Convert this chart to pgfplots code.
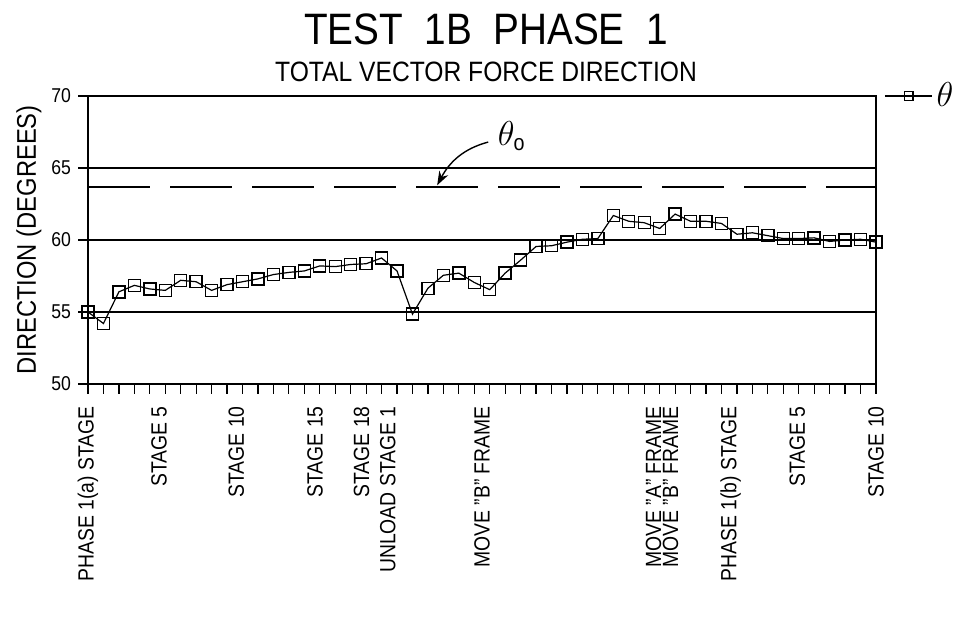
\documentclass[border=0pt]{standalone}
\usepackage{pgfplots}
\pgfplotsset{compat=1.18}
\usepackage{pgfplotstable}
\usepackage{fontspec}
\setmainfont[FakeStretch=0.88]{Liberation Sans}
\usetikzlibrary{arrows.meta}

\pgfplotstableread{
idx val
0 55.0
1 54.2
2 56.4
3 56.85
4 56.6
5 56.5
6 57.2
7 57.1
8 56.5
9 56.9
10 57.1
11 57.3
12 57.6
13 57.75
14 57.85
15 58.2
16 58.15
17 58.3
18 58.35
19 58.75
20 57.85
21 54.85
22 56.65
23 57.55
24 57.7
25 57.05
26 56.55
27 57.7
28 58.6
29 59.55
30 59.6
31 59.85
32 60.05
33 60.1
34 61.7
35 61.3
36 61.2
37 60.8
38 61.8
39 61.3
40 61.3
41 61.15
42 60.4
43 60.5
44 60.3
45 60.1
46 60.1
47 60.15
48 59.9
49 60.0
50 60.05
51 59.85
}\thetadata

\pgfplotstableread{
idx val
0 63.7
51 63.7
}\thetazero

\begin{document}
\begin{tikzpicture}
\path[use as bounding box] (0,0) rectangle (485pt,312pt);
\begin{axis}[
  name=ax,
  at={(44pt,120pt)}, anchor=south west,
  scale only axis, width=394pt, height=144pt,
  xmin=0, xmax=51, ymin=50, ymax=70,
  axis line style={line width=0.7pt},
  xtick={0,...,51},
  xticklabel style={opacity=0},
  ytick={50,55,...,70},
  tick pos=left,
  tick align=outside,
  major tick length=5pt,
  tick style={black, line width=0.6pt},
  ymajorgrids, grid style={black, line width=0.6pt},
  /pgf/number format/assume math mode=true,
  yticklabel style={font=\fontsize{10}{11}\selectfont},
  extra x ticks={0,4.6,9.6,14.7,17.7,19.4,25.5,36.6,37.7,41.6,45.9,51},
  extra x tick labels={PHASE 1(a) STAGE, STAGE 5, STAGE 10, STAGE 15, STAGE 18, UNLOAD STAGE 1, MOVE "B" FRAME, MOVE "A" FRAME, MOVE "B" FRAME, PHASE 1(b) STAGE, STAGE 5, STAGE 10},
  extra x tick style={major tick length=0pt, grid=none,
    xticklabel style={opacity=1, yshift=-10pt, rotate=90, anchor=east, inner sep=1pt, font=\fontsize{11}{12}\selectfont}},
  every axis y label/.style={at={(axis description cs:-0.0749,0.5)}, rotate=90, anchor=center, font=\fontsize{13.5}{15}\selectfont},
  ylabel={DIRECTION (DEGREES)},
  legend style={at={(axis description cs:1.01,1)}, anchor=west, draw=none, fill=none, font=\fontsize{18}{18}\selectfont, inner sep=0pt},
  legend image code/.code={\draw[#1, mark repeat=2, mark phase=2, mark size=2.2pt] plot coordinates {(0cm,0cm) (0.42cm,0cm) (0.83cm,0cm)};},
  clip=false,
]
\addplot[black, line width=0.6pt, mark=square, mark size=3pt, mark options={solid, line width=0.7pt}] table[x=idx, y=val] {\thetadata};
\addlegendentry{$\theta$}
\addplot[black, line width=0.8pt, dash pattern=on 31pt off 10pt, forget plot] table[x=idx, y=val] {\thetazero};
\draw[-{Stealth[length=7pt, width=5pt]}, line width=0.7pt] (axis cs:25.9,66.8) to[out=195, in=62] (axis cs:22.6,63.8);
\node[anchor=west, inner sep=0pt, font=\fontsize{16}{16}\selectfont] at (axis cs:26.5,67.2) {$\theta_{\mathrm{o}}$};
\end{axis}
\node[anchor=base, font=\fontsize{22}{24}\selectfont] at (243pt,289.5pt) {TEST\ \ 1B\ \ PHASE\ \ 1};
\node[anchor=base, font=\fontsize{14}{16}\selectfont] at (243pt,271.3pt) {TOTAL VECTOR FORCE DIRECTION};
\end{tikzpicture}
\end{document}
